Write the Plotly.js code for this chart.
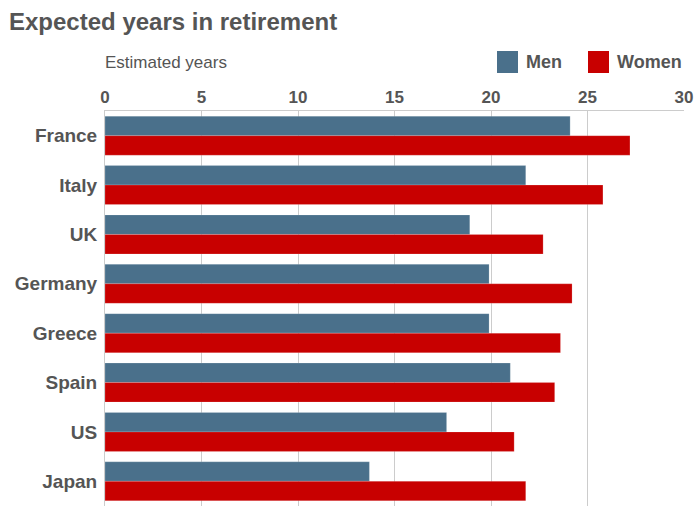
<!DOCTYPE html>
<html>
<head>
<meta charset="utf-8">
<script src="https://cdn.plot.ly/plotly-3.0.1.min.js"></script>
<style>html,body{margin:0;padding:0;background:#fff;}#chart{width:694px;height:506px;}</style>
</head>
<body>
<div id="chart"></div>
<script>
var countries = ["France", "Italy", "UK", "Germany", "Greece", "Spain", "US", "Japan"];
var men = [24.1, 21.8, 18.9, 19.9, 19.9, 21.0, 17.7, 13.7];
var women = [27.2, 25.8, 22.7, 24.2, 23.6, 23.3, 21.2, 21.8];
var xTicks = [0, 5, 10, 15, 20, 25, 30];
var seriesNames = ["Men", "Women"];
var seriesColors = ["#4a708b", "#c80000"];

var FONT = "Liberation Sans, Arial, sans-serif";
var GREY = "#555555";

var W = 694, H = 506, ML = 105, MR = 10, MT = 111, MB = 0;
var PW = W - ML - MR, PH = H - MT - MB;
function px(x) { return (x - ML) / PW; }
function py(y) { return (H - MB - y) / PH; }

var traces = [
  {type: "bar", orientation: "h", name: seriesNames[0], y: countries, x: men,
   marker: {color: seriesColors[0], line: {color: "rgba(255,255,255,0.35)", width: 0.5}}, hoverinfo: "x+y+name"},
  {type: "bar", orientation: "h", name: seriesNames[1], y: countries, x: women,
   marker: {color: seriesColors[1], line: {color: "rgba(255,255,255,0.35)", width: 0.5}}, hoverinfo: "x+y+name"}
];

// legend drawn as swatches + labels (reference uses large square swatches)
var legendSwatchX = [497, 588];
var legendTextX = [524, 615];
var shapes = [], annotations = [];
for (var i = 0; i < seriesNames.length; i++) {
  shapes.push({type: "rect", xref: "paper", yref: "paper",
    x0: px(legendSwatchX[i]), x1: px(legendSwatchX[i] + 21), y0: py(73), y1: py(51),
    fillcolor: seriesColors[i], line: {width: 0}});
  annotations.push({text: seriesNames[i], xref: "paper", yref: "paper", x: px(legendTextX[i]), y: py(62),
    xanchor: "left", yanchor: "middle", showarrow: false,
    font: {family: FONT, size: 18, weight: "bold", color: GREY}});
}
annotations.push({text: "Estimated years", xref: "paper", yref: "paper", x: 0, y: py(62), xanchor: "left", yanchor: "middle",
  xshift: -2, showarrow: false, font: {family: FONT, size: 17, color: GREY}});

var layout = {
  width: W, height: H,
  margin: {l: ML, r: MR, t: MT, b: MB, pad: 0},
  paper_bgcolor: "#ffffff", plot_bgcolor: "#ffffff",
  barmode: "group", bargap: 0.21, bargroupgap: 0,
  font: {family: FONT, color: GREY},
  title: {text: "Expected years in retirement", font: {family: FONT, size: 24, weight: "bold", color: GREY},
          x: 9/W, xanchor: "left", xref: "container", y: 1 - 22/H, yanchor: "middle", yref: "container"},
  xaxis: {side: "top", range: [0, 30], tickvals: xTicks, ticktext: xTicks.map(String),
          showgrid: true, gridcolor: "#cccccc", gridwidth: 1, zeroline: false,
          showline: true, linecolor: "#cccccc", linewidth: 1, ticks: "", ticklabelstandoff: 0,
          tickfont: {family: FONT, size: 17, weight: "bold", color: GREY}, fixedrange: true},
  yaxis: {type: "category", autorange: "reversed", ticks: "", showgrid: false, zeroline: false,
          showline: true, linecolor: "#cccccc", linewidth: 1, ticklabelstandoff: 3,
          tickfont: {family: FONT, size: 19, weight: "bold", color: GREY}, fixedrange: true},
  showlegend: false,
  shapes: shapes,
  annotations: annotations
};

Plotly.newPlot("chart", traces, layout, {displayModeBar: false});
</script>
</body>
</html>
